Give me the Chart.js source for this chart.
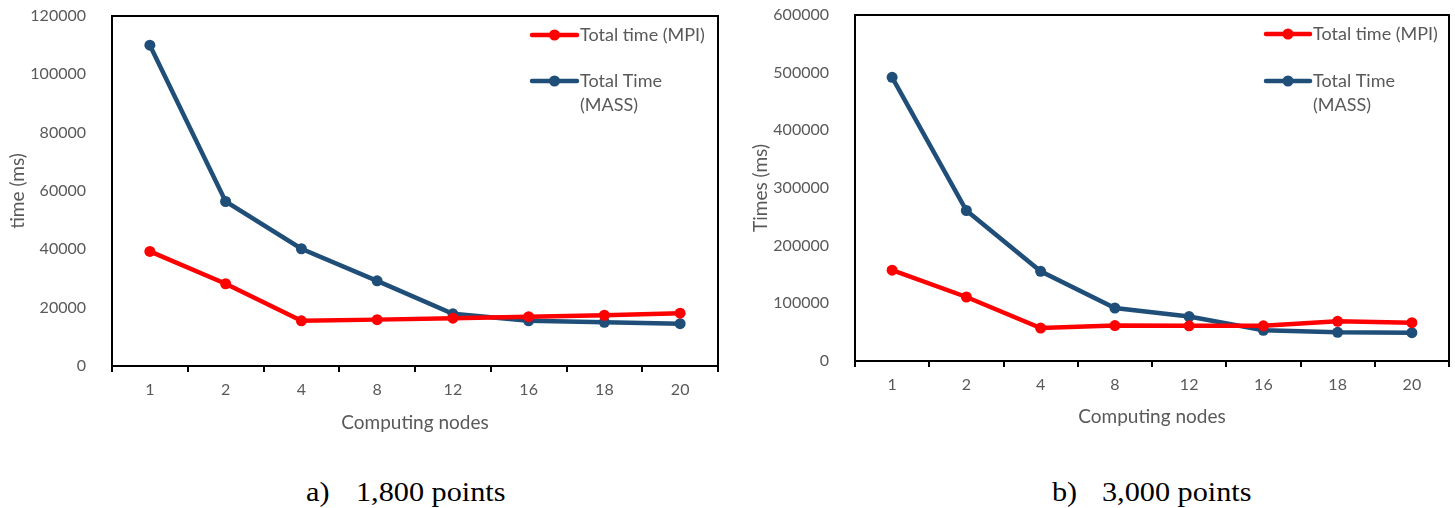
<!DOCTYPE html>
<html>
<head>
<meta charset="utf-8">
<script src="https://cdn.jsdelivr.net/npm/chart.js@4.4.1/dist/chart.umd.min.js"></script>
<style>
  html, body { margin: 0; padding: 0; background: #fff; }
  body { width: 1455px; height: 508px; position: relative; overflow: hidden; }
  .wrap { position: absolute; top: 0; }
  .cap { position: absolute; font-family: "Liberation Serif", "Times New Roman", serif; font-size: 28px; line-height: 28px; color: #000; white-space: pre; transform: scaleX(1.08); transform-origin: left center; }
</style>
</head>
<body>
<div class="wrap" style="left:0px;"><canvas id="c1" width="740" height="434"></canvas></div>
<div class="wrap" style="left:740px;"><canvas id="c2" width="715" height="428"></canvas></div>
<div class="cap" style="left:306px; top:478px;">a)</div>
<div class="cap" style="left:356px; top:478px;">1,800 points</div>
<div class="cap" style="left:1052px; top:478px;">b)</div>
<div class="cap" style="left:1102px; top:478px;">3,000 points</div>
<script>
// ---- data ----
const categories = ['1', '2', '4', '8', '12', '16', '18', '20'];
const seriesNames = ['Total time (MPI)', 'Total Time (MASS)'];
const mpi1800  = [39300, 28200, 15500, 15900, 16400, 16900, 17400, 18100];
const mass1800 = [110000, 56400, 40200, 29200, 17900, 15500, 15000, 14500];
const mpi3000  = [157500, 111000, 57200, 61400, 61000, 61000, 68800, 66500];
const mass3000 = [492000, 261000, 155500, 91900, 77000, 53200, 49700, 49200];
const yTitles = ['time (ms)', 'Times (ms)'];
const xTitle = 'Computing nodes';

const RED = '#FF0000';
const BLUE = '#1F4E79';
const GREY = '#595959';
const FONT = 'Lato, "Open Sans", sans-serif';

const boxPlugin = {
  id: 'boxBorder',
  afterDatasetsDraw(chart) {
    const {ctx, chartArea: a} = chart;
    ctx.save();
    ctx.strokeStyle = '#000';
    ctx.lineWidth = 2;
    ctx.beginPath();
    ctx.moveTo(a.left, a.top);
    ctx.lineTo(a.right, a.top);
    ctx.lineTo(a.right, a.bottom);
    ctx.stroke();
    ctx.restore();
  }
};

const legendPlugin = {
  id: 'customLegend',
  afterDraw(chart, args, opts) {
    const {ctx} = chart;
    ctx.save();
    ctx.font = '18px ' + FONT;
    ctx.textBaseline = 'middle';
    ctx.textAlign = 'left';
    chart.data.datasets.forEach((ds, i) => {
      const y = opts.ys[i];
      ctx.strokeStyle = ds.borderColor;
      ctx.lineWidth = 4.5;
      ctx.lineCap = 'round';
      ctx.beginPath();
      ctx.moveTo(opts.x0, y);
      ctx.lineTo(opts.x1, y);
      ctx.stroke();
      ctx.fillStyle = ds.borderColor;
      ctx.beginPath();
      ctx.arc((opts.x0 + opts.x1) / 2, y, 5.5, 0, Math.PI * 2);
      ctx.fill();
      const words = ds.label.split(' ');
      const lines = [];
      let cur = '';
      words.forEach(w => {
        const t = cur ? cur + ' ' + w : w;
        if (ctx.measureText(t).width > opts.maxWidth && cur) { lines.push(cur); cur = w; }
        else cur = t;
      });
      lines.push(cur);
      ctx.fillStyle = GREY;
      lines.forEach((ln, k) => ctx.fillText(ln, opts.tx, y + k * 24));
    });
    ctx.restore();
  }
};

function makeChart(id, mpi, mass, yMax, yStep, yTitle, pad, yWidth, xHeight, legendOpts) {
  return new Chart(document.getElementById(id), {
    type: 'line',
    data: {
      labels: categories,
      datasets: [
        { label: seriesNames[0], data: mpi, borderColor: RED, backgroundColor: RED,
          borderWidth: 4.5, pointRadius: 5.5, pointBorderWidth: 0, pointBackgroundColor: RED, tension: 0 },
        { label: seriesNames[1], data: mass, borderColor: BLUE, backgroundColor: BLUE,
          borderWidth: 4.5, pointRadius: 5.5, pointBorderWidth: 0, pointBackgroundColor: BLUE, tension: 0 }
      ]
    },
    options: {
      responsive: false,
      animation: false,
      layout: { padding: pad },
      plugins: {
        legend: { display: false },
        tooltip: { enabled: false },
        customLegend: legendOpts
      },
      scales: {
        x: {
          offset: true,
          grid: { display: true, offset: true, drawOnChartArea: false, drawTicks: true, tickLength: 6, color: '#000', lineWidth: 2 },
          border: { display: true, color: '#000', width: 2 },
          ticks: { color: GREY, font: { family: FONT, size: 16 }, padding: 8, maxRotation: 0 },
          title: { display: true, text: xTitle, color: GREY, font: { family: FONT, size: 19 }, padding: 0 },
          afterFit(s) { s.height = xHeight; s.paddingLeft = 0; s.paddingRight = 0; }
        },
        y: {
          min: 0, max: yMax,
          grid: { display: false },
          border: { display: true, color: '#000', width: 2 },
          ticks: { stepSize: yStep, color: GREY, font: { family: FONT, size: 16 }, padding: 18,
                   callback: (v) => String(v) },
          title: { display: true, text: yTitle, color: GREY, font: { family: FONT, size: 19 }, padding: 0 },
          afterFit(s) { s.width = yWidth; s.paddingTop = 0; s.paddingBottom = 0; }
        }
      }
    },
    plugins: [boxPlugin, legendPlugin]
  });
}

makeChart('c1', mpi1800, mass1800, 120000, 20000, yTitles[0],
  { top: 16, right: 22, left: 6, bottom: 0 }, 106, 68,
  { x0: 532, x1: 577, tx: 580, ys: [35, 81], maxWidth: 135 });

makeChart('c2', mpi3000, mass3000, 600000, 100000, yTitles[1],
  { top: 15, right: 6, left: 9, bottom: 0 }, 106, 67,
  { x0: 526, x1: 570, tx: 573, ys: [34, 81], maxWidth: 133 });
</script>
</body>
</html>
